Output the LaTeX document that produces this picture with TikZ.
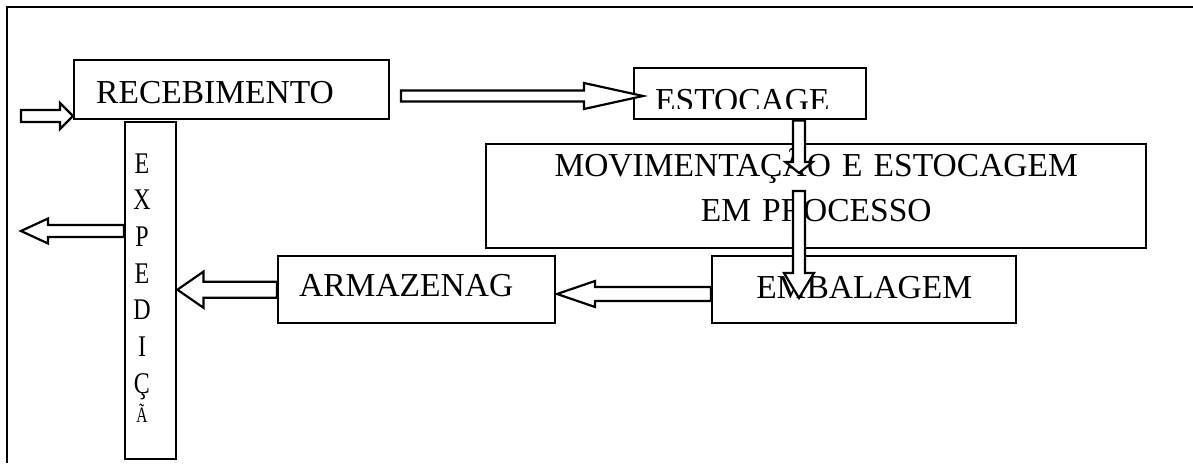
\documentclass[tikz,border=0pt]{standalone}
\usepackage{fontspec}
\setmainfont{Liberation Serif}
\usetikzlibrary{calc}

\tikzset{
  blk/.style={draw, line width=2.4pt, anchor=north west, inner ysep=0pt,
    font=\fontsize{33.5}{45}\selectfont},
  vletter/.style={inner sep=0pt, anchor=base, font=\fontsize{30}{30}\selectfont},
  fat/.style={draw, line width=2.2pt, fill=white, line join=miter},
}
% block arrow: from, to, shaft half width, head half width, head length
\newcommand{\fatarrow}[5]{%
  \path (#1) coordinate (fa0) (#2) coordinate (fa1);
  \coordinate (fab) at ($(fa1)!#5!(fa0)$);
  \draw[fat] ($(fa0)!#3!90:(fa1)$) -- ($(fab)!#3!90:(fa1)$) -- ($(fab)!#4!90:(fa1)$)
    -- (fa1) -- ($(fab)!#4!-90:(fa1)$) -- ($(fab)!#3!-90:(fa1)$) -- ($(fa0)!#3!-90:(fa1)$) -- cycle;
}

\begin{document}
\begin{tikzpicture}[x=1pt, y=-1pt]
  \useasboundingbox (0,0) rectangle (1193,463);
  \draw[line width=2.4pt] (7,463) -- (7,7) -- (1193,7);

  \node[blk, text width=271pt, inner xsep=22pt, align=left, text height=43pt, text depth=16pt] (rec) at (73,59) {RECEBIMENTO};
  \node[blk, minimum width=232pt, minimum height=51pt] (est) at (633,67) {};
  \begin{scope}
    \clip (est.north west) rectangle ([yshift=12pt]est.south east);
    \node[inner sep=0pt, anchor=base west, font=\fontsize{33.5}{45}\selectfont] (estT) at (655,111) {ESTOCAGE};
  \end{scope}
  \node[blk, text width=620pt, inner xsep=20pt, align=center, text height=32pt, text depth=72pt] (mov) at (485,143) {MOVIMENTAÇÃO E ESTOCAGEM\\EM PROCESSO};
  \node[blk, text width=235pt, inner xsep=21pt, align=left, text height=40pt, text depth=27pt] (arm) at (277,255) {ARMAZENAG};
  \node[blk, text width=264pt, inner xsep=20pt, align=center, text height=42pt, text depth=25pt] (emb) at (711,255) {EMBALAGEM};

  \node[blk, minimum width=51pt, minimum height=337pt] (exp) at (124,121) {};
  \foreach \c [count=\n, evaluate={\y=173+36.7*(\n-1)}] in {E,X,P,E,D,I,Ç}
    \node[vletter] (exp\n) at (142,\y) {\scalebox{0.8}[1]{\c}};
  \node[vletter, font=\fontsize{22}{22}\selectfont] (exp8) at (142,422) {\scalebox{0.7}[1]{Ã}};

  \coordinate (inS) at (21,116);
  \fatarrow{inS}{rec.west |- inS}{6pt}{13pt}{13pt}
  \coordinate (r2) at (401,96);
  \fatarrow{r2}{$(est.west |- r2)+(10,0)$}{5.5pt}{13pt}{59pt}
  \coordinate (d1) at (799,173);
  \fatarrow{est.south -| d1}{d1}{6pt}{13.5pt}{11pt}
  \coordinate (d2s) at (799,191);
  \coordinate (d2e) at (799,298);
  \fatarrow{d2s}{d2e}{6pt}{15pt}{25pt}
  \fatarrow{arm.west}{exp.east |- arm.west}{8pt}{18pt}{26pt}
  \coordinate (a6) at (557,294);
  \fatarrow{emb.west |- a6}{a6}{7pt}{13pt}{38pt}
  \coordinate (out) at (21,231);
  \fatarrow{exp.west |- out}{out}{6pt}{12.5pt}{27pt}
\end{tikzpicture}
\end{document}
